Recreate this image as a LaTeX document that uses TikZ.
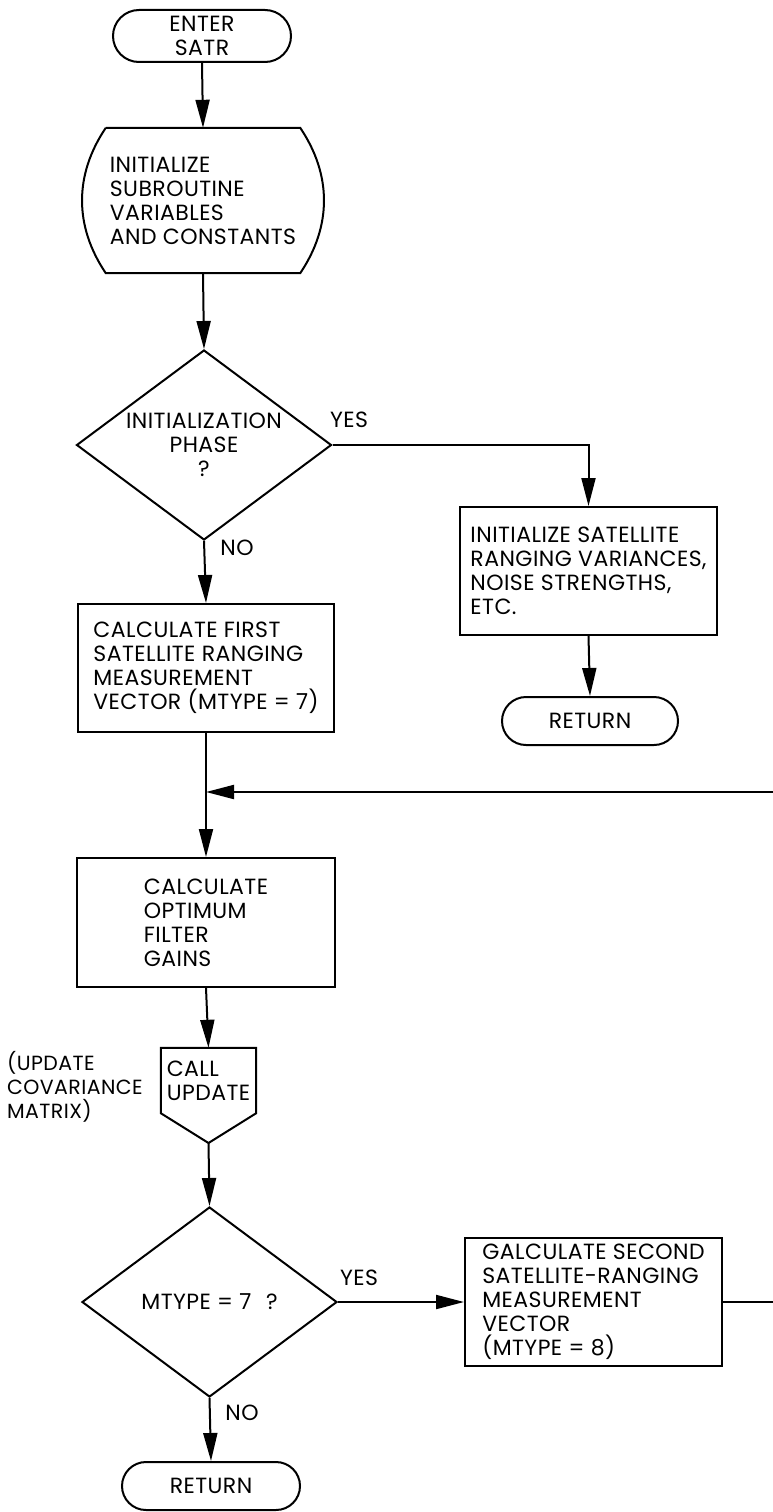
\documentclass[tikz,border=0pt]{standalone}
\usepackage{fontspec}
\setmainfont{Poppins}[LetterSpace=2]
\usetikzlibrary{arrows.meta,shapes.geometric}

\begin{document}
\begin{tikzpicture}[x=1pt,y=-1pt,
  every node/.style={font=\fontsize{22}{24}\selectfont, inner sep=0pt},
  flow/.style={line width=2pt, draw=black},
  arr/.style={flow, -{Triangle[length=28pt,width=14pt]}},
  procbox/.style={flow, rectangle, align=left},
  terminal/.style={flow, rectangle, rounded corners=24pt, align=center},
  decision/.style={flow, diamond, shape aspect=1.342, align=center,
    minimum width=255pt, minimum height=190pt},
  branch/.style={font=\fontsize{22}{24}\selectfont}
]
\useasboundingbox (0,0) rectangle (773,1512);

% start and initialisation
\node[terminal, minimum width=178pt, minimum height=52pt, rounded corners=26pt]
  (enter) at (202,36) {ENTER\\SATR};
\node[align=left, minimum width=194pt, minimum height=145pt]
  (init) at (203,200.5) {INITIALIZE\\SUBROUTINE\\VARIABLES\\AND CONSTANTS};
\draw[flow] (init.north west) -- (init.north east)
  to[bend left=34] (init.south east)
  -- (init.south west)
  to[bend left=34] (init.north west);

% first decision
\node[decision] (d1) at (204,445) {INITIALIZATION\\PHASE\\?};
\node[branch] (yes1) at (349,420) {YES};
\node[branch] (no1) at (237,548) {NO};

\node[procbox, minimum width=257pt, minimum height=128pt]
  (sat) at (588.5,571) {INITIALIZE SATELLITE\\RANGING VARIANCES,\\NOISE STRENGTHS,\\ETC.};
\node[terminal, minimum width=176pt, minimum height=48pt]
  (ret1) at (590,721) {RETURN};

\node[procbox, minimum width=256pt, minimum height=128pt]
  (calc1) at (206,668) {CALCULATE FIRST\\SATELLITE RANGING\\MEASUREMENT\\VECTOR (MTYPE = 7)};

% loop entry
\coordinate (j1) at (206,792);
\coordinate (e1) at (773,792);

\node[procbox, minimum width=258pt, minimum height=129pt]
  (gains) at (206,922.5) {CALCULATE\\OPTIMUM\\FILTER\\GAINS};

% subroutine call
\node[align=left, minimum width=95pt, minimum height=65pt]
  (cu) at (208.5,1080.5) {CALL\\UPDATE};
\coordinate (cup) at (208.5,1143);
\draw[flow] (cu.south west) -- (cu.north west) -- (cu.north east)
  -- (cu.south east) -- (cup) -- cycle;
\node[align=left, anchor=west, font=\fontsize{20.5}{24}\selectfont]
  (cov) at (7,1087) {(UPDATE\\COVARIANCE\\MATRIX)};

% second decision
\node[decision] (d2) at (209.5,1302) {MTYPE = 7\enspace\,?};
\node[branch] (yes2) at (359,1278) {YES};
\node[branch] (no2) at (242,1413) {NO};

\node[procbox, minimum width=257pt, minimum height=128pt]
  (b2) at (593.5,1302) {GALCULATE SECOND\\SATELLITE-RANGING\\MEASUREMENT\\VECTOR\\(MTYPE = 8)};
\coordinate (e2) at (773,1302);

\node[terminal, minimum width=178pt, minimum height=48pt]
  (ret2) at (211,1486) {RETURN};

% connectors
\draw[arr] (enter.south) -- (init.north);
\draw[arr] (init.south) -- (d1.north);
\draw[arr] (d1.east) -| (sat.north);
\draw[arr] (sat.south) -- (ret1.north);
\draw[arr] (d1.south) -- (calc1.north);
\draw[arr] (calc1.south) -- (gains.north);
\draw[arr] (e1) -- (j1);
\draw[arr] (gains.south) -- (cu.north);
\draw[arr] (cup) -- (d2.north);
\draw[arr] (d2.east) -- (b2.west);
\draw[flow] (b2.east) -- (e2);
\draw[arr] (d2.south) -- (ret2.north);
\end{tikzpicture}
\end{document}
